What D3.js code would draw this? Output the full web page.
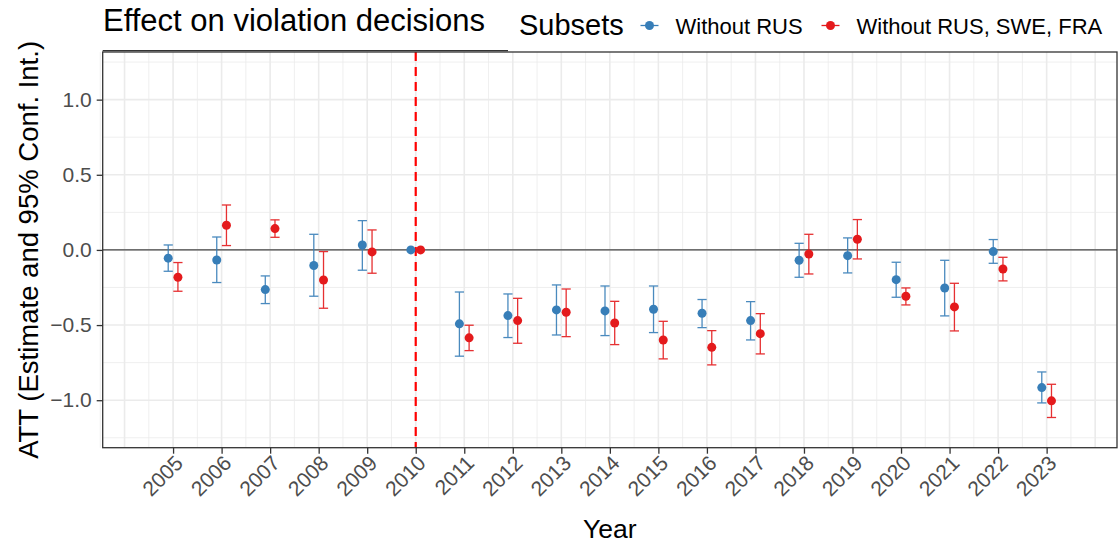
<!DOCTYPE html>
<html>
<head>
<meta charset="utf-8">
<script src="https://cdn.jsdelivr.net/npm/d3@7"></script>
<style>
  html, body { margin: 0; padding: 0; background: #fff; }
  svg { display: block; font-family: "Liberation Sans", Arial, sans-serif; }
</style>
</head>
<body>
<svg id="chart" width="1120" height="547"></svg>
<script>
// ---- data -------------------------------------------------------------
const years = [2005, 2006, 2007, 2008, 2009, 2010, 2011, 2012, 2013, 2014,
               2015, 2016, 2017, 2018, 2019, 2020, 2021, 2022, 2023];

const seriesNames = ["Without RUS", "Without RUS, SWE, FRA"];
const seriesColors = ["#377EB8", "#E41A1C"];

// Without RUS
const estA = [-0.055, -0.067, -0.264, -0.104, 0.033, 0, -0.492, -0.437, -0.399, -0.406,
              -0.395, -0.421, -0.470, -0.069, -0.038, -0.198, -0.253, -0.011, -0.916];
const lowA = [-0.142, -0.217, -0.357, -0.308, -0.135, 0, -0.707, -0.583, -0.566, -0.570,
              -0.550, -0.517, -0.599, -0.182, -0.153, -0.315, -0.439, -0.089, -1.018];
const highA = [0.033, 0.086, -0.173, 0.104, 0.195, 0, -0.280, -0.293, -0.233, -0.240,
               -0.240, -0.330, -0.344, 0.044, 0.080, -0.082, -0.069, 0.069, -0.812];

// Without RUS, SWE, FRA
const estB = [-0.182, 0.164, 0.142, -0.200, -0.013, 0, -0.585, -0.470, -0.415, -0.486,
              -0.599, -0.648, -0.557, -0.027, 0.071, -0.308, -0.379, -0.127, -1.004];
const lowB = [-0.275, 0.029, 0.084, -0.388, -0.155, 0, -0.670, -0.621, -0.577, -0.630,
              -0.725, -0.765, -0.692, -0.160, -0.060, -0.366, -0.539, -0.206, -1.115];
const highB = [-0.084, 0.299, 0.200, -0.011, 0.133, 0, -0.501, -0.322, -0.260, -0.342,
               -0.475, -0.537, -0.424, 0.104, 0.202, -0.253, -0.222, -0.049, -0.894];

const yTicks = [-1.0, -0.5, 0.0, 0.5, 1.0];
const yMinor = [-1.25, -0.75, -0.25, 0.25, 0.75, 1.25];
const treatYear = 2010;

// ---- layout -----------------------------------------------------------
const panel = { left: 102.7, right: 1117, top: 52, bottom: 447.7 };
const svg = d3.select("#chart");

const x = d3.scaleLinear().domain([2003.55, 2024.45]).range([panel.left, panel.right]);
const y = d3.scaleLinear().domain([-1.316, 1.317]).range([panel.bottom, panel.top]);
const dodge = 0.1;

const series = [
  { name: seriesNames[0], color: seriesColors[0], off: -dodge,
    rows: years.map((yr, i) => ({ yr, est: estA[i], lo: lowA[i], hi: highA[i] })) },
  { name: seriesNames[1], color: seriesColors[1], off: dodge,
    rows: years.map((yr, i) => ({ yr, est: estB[i], lo: lowB[i], hi: highB[i] })) }
];

// ---- grid -------------------------------------------------------------
const grid = svg.append("g");
const xMajor = d3.range(2004, 2025);
const xMinorG = d3.range(2003.5, 2024.5, 1);
grid.selectAll(".vmin").data(xMinorG).join("line")
  .attr("x1", d => x(d)).attr("x2", d => x(d))
  .attr("y1", panel.top).attr("y2", panel.bottom)
  .attr("stroke", "#EBEBEB").attr("stroke-width", 0.8);
grid.selectAll(".hmin").data(yMinor).join("line")
  .attr("x1", panel.left).attr("x2", panel.right)
  .attr("y1", d => y(d)).attr("y2", d => y(d))
  .attr("stroke", "#EBEBEB").attr("stroke-width", 0.8);
grid.selectAll(".vmaj").data(xMajor).join("line")
  .attr("x1", d => x(d)).attr("x2", d => x(d))
  .attr("y1", panel.top).attr("y2", panel.bottom)
  .attr("stroke", "#EBEBEB").attr("stroke-width", 1.6);
grid.selectAll(".hmaj").data(yTicks).join("line")
  .attr("x1", panel.left).attr("x2", panel.right)
  .attr("y1", d => y(d)).attr("y2", d => y(d))
  .attr("stroke", "#EBEBEB").attr("stroke-width", 1.6);

// ---- reference lines --------------------------------------------------
svg.append("line")
  .attr("x1", panel.left).attr("x2", panel.right)
  .attr("y1", y(0)).attr("y2", y(0))
  .attr("stroke", "#444").attr("stroke-width", 1.2);
svg.append("line")
  .attr("x1", x(treatYear)).attr("x2", x(treatYear))
  .attr("y1", panel.top).attr("y2", panel.bottom)
  .attr("stroke", "#FF0000").attr("stroke-width", 2.2)
  .attr("stroke-dasharray", "9,6");

// ---- error bars and points ---------------------------------------------
const cap = 4.6;
series.forEach(s => {
  const g = svg.append("g");
  const bars = g.selectAll(".eb").data(s.rows.filter(r => r.hi !== r.lo)).join("g")
    .attr("stroke", s.color).attr("stroke-width", 1.3).attr("opacity", 0.9);
  bars.append("line")
    .attr("x1", d => x(d.yr + s.off)).attr("x2", d => x(d.yr + s.off))
    .attr("y1", d => y(d.lo)).attr("y2", d => y(d.hi));
  bars.append("line")
    .attr("x1", d => x(d.yr + s.off) - cap).attr("x2", d => x(d.yr + s.off) + cap)
    .attr("y1", d => y(d.lo)).attr("y2", d => y(d.lo));
  bars.append("line")
    .attr("x1", d => x(d.yr + s.off) - cap).attr("x2", d => x(d.yr + s.off) + cap)
    .attr("y1", d => y(d.hi)).attr("y2", d => y(d.hi));
  g.selectAll("circle").data(s.rows).join("circle")
    .attr("cx", d => x(d.yr + s.off)).attr("cy", d => y(d.est))
    .attr("r", 4.5).attr("fill", s.color);
});

// ---- panel border -----------------------------------------------------
svg.append("rect")
  .attr("x", panel.left).attr("y", panel.top)
  .attr("width", panel.right - panel.left).attr("height", panel.bottom - panel.top)
  .attr("fill", "none").attr("stroke", "#333").attr("stroke-width", 1.3);
svg.append("line")
  .attr("x1", panel.left).attr("x2", 508)
  .attr("y1", 50.6).attr("y2", 50.6)
  .attr("stroke", "#333").attr("stroke-width", 1.2);

// ---- axes -------------------------------------------------------------
const xAxis = d3.axisBottom(x).tickValues(years).tickFormat(d3.format("d"))
  .tickSizeInner(6).tickSizeOuter(0).tickPadding(4);
const gx = svg.append("g").attr("transform", `translate(0,${panel.bottom})`).call(xAxis);
gx.select(".domain").remove();
gx.selectAll(".tick line").attr("stroke", "#333").attr("stroke-width", 1.3);
gx.selectAll(".tick text")
  .attr("fill", "#4D4D4D").attr("font-size", 21)
  .attr("text-anchor", "end")
  .attr("transform", "translate(0,6) rotate(-45)")
  .attr("x", 0).attr("y", 0).attr("dy", "0.72em");

const yAxis = d3.axisLeft(y).tickValues(yTicks).tickFormat(d3.format(".1f"))
  .tickSizeInner(6).tickSizeOuter(0).tickPadding(5);
const gy = svg.append("g").attr("transform", `translate(${panel.left},0)`).call(yAxis);
gy.select(".domain").remove();
gy.selectAll(".tick line").attr("stroke", "#333").attr("stroke-width", 1.3);
gy.selectAll(".tick text").attr("fill", "#4D4D4D").attr("font-size", 21)
  .text(d => d3.format(".1f")(d).replace("-", "\u2212"));

// ---- titles -----------------------------------------------------------
svg.append("text").attr("x", 103).attr("y", 31)
  .attr("font-size", 31).attr("fill", "#000").text("Effect on violation decisions");
svg.append("text").attr("x", (panel.left + panel.right) / 2).attr("y", 538)
  .attr("text-anchor", "middle").attr("font-size", 26.5).attr("fill", "#000").text("Year");
svg.append("text")
  .attr("transform", `translate(38,${(panel.top + panel.bottom) / 2}) rotate(-90)`)
  .attr("text-anchor", "middle").attr("font-size", 27.5).attr("fill", "#000")
  .text("ATT (Estimate and 95% Conf. Int.)");

// ---- legend -----------------------------------------------------------
const legend = svg.append("g");
legend.append("text").attr("x", 519).attr("y", 35)
  .attr("font-size", 29).attr("fill", "#000").text("Subsets");
const keyX = [649.5, 830.5];
series.forEach((s, i) => {
  const k = legend.append("g");
  k.append("line").attr("x1", keyX[i] - 9).attr("x2", keyX[i] + 9)
    .attr("y1", 25.5).attr("y2", 25.5).attr("stroke", s.color).attr("stroke-width", 1.3);
  k.append("circle").attr("cx", keyX[i]).attr("cy", 25.5).attr("r", 4.5).attr("fill", s.color);
  k.append("text").attr("x", keyX[i] + 26).attr("y", 33.5)
    .attr("font-size", 22).attr("fill", "#000").text(s.name);
});
</script>
</body>
</html>
